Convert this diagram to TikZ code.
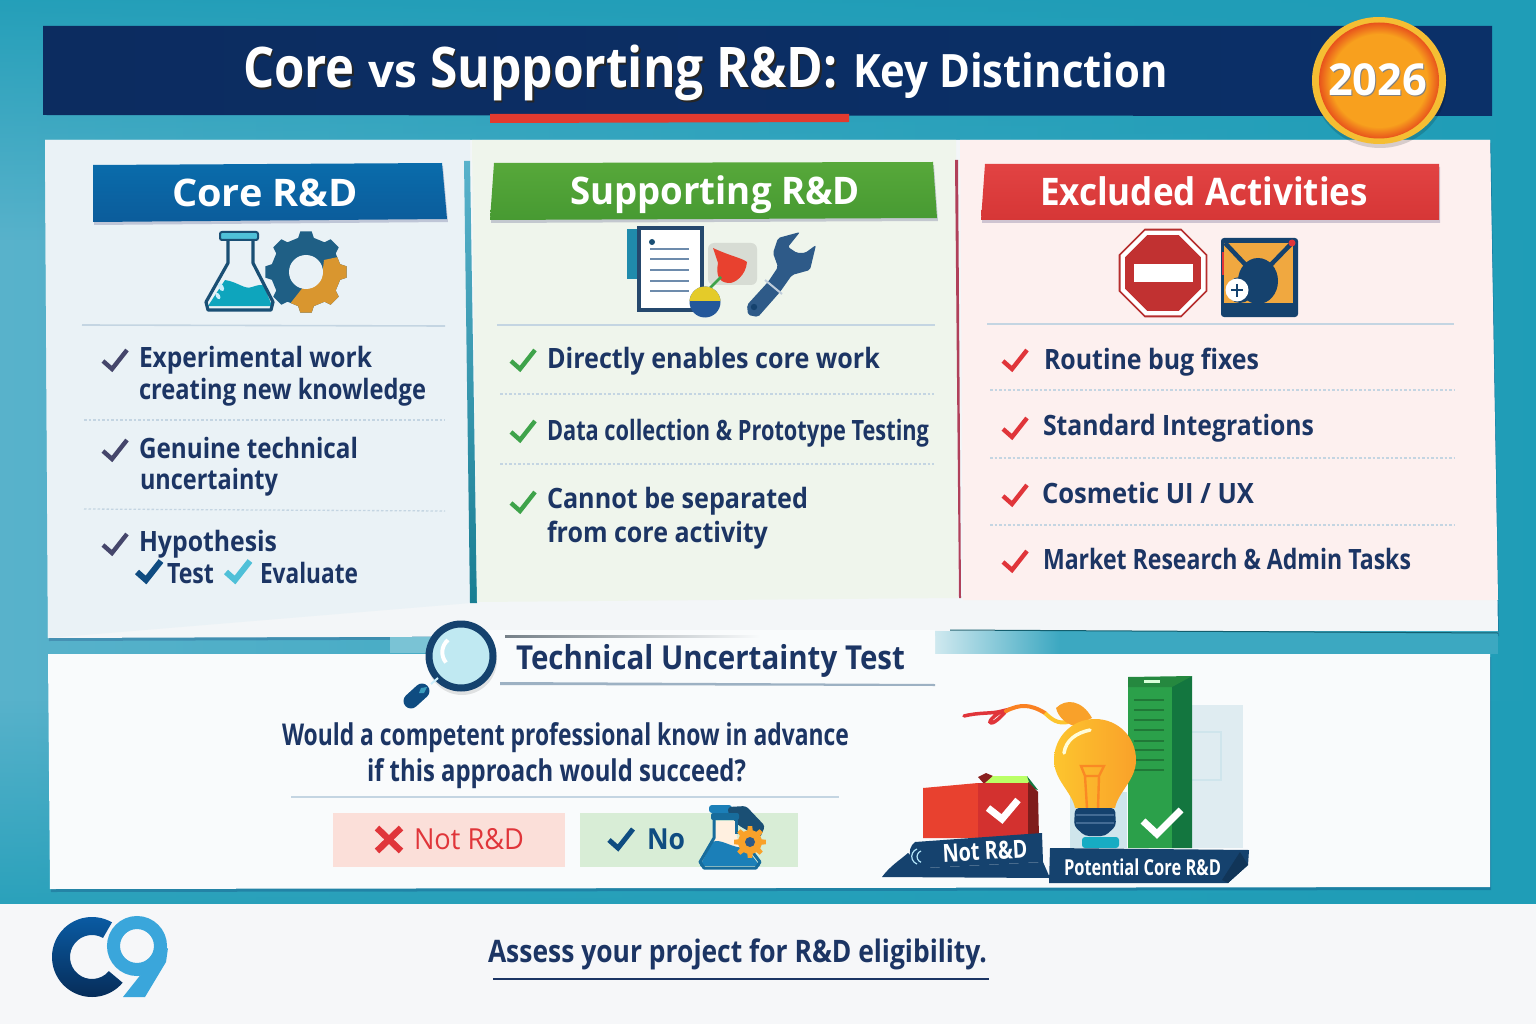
\documentclass[tikz,border=0pt]{standalone}
\usepackage{fontspec}
\usepackage{graphicx}
\usetikzlibrary{fadings,shadows,shadings}
\newfontfamily\fbaseb{Open Sans}
\newcommand{\fbold}{\fbaseb\bfseries}
\newcommand{\fsemi}{\fbaseb\bfseries}
\newcommand{\fmed}{\fbaseb}
\definecolor{navy}{HTML}{1C3564}
\definecolor{titlenavy}{HTML}{0C2C60}
\definecolor{titlenavyb}{HTML}{0B3068}
\definecolor{rule}{HTML}{C4D5E2}
\definecolor{iconnavy}{HTML}{1A4F74}
\definecolor{bgL}{HTML}{58B2CB}
\definecolor{bgR}{HTML}{1F9DB7}
\definecolor{wnavy}{HTML}{2E5A88}
\definecolor{bnavy}{HTML}{15426E}
\definecolor{chkgreen}{HTML}{3EA34A}
\definecolor{chkred}{HTML}{E0353A}
\definecolor{chkslate}{HTML}{45466B}
\definecolor{sheet}{HTML}{F3F6F8}
\definecolor{pleft}{HTML}{EAF2F6}
\definecolor{pmid}{HTML}{EFF5EC}
\definecolor{pright}{HTML}{FDF0EF}
\definecolor{low}{HTML}{F9FBFC}
\definecolor{foot}{HTML}{F6F7F9}
\definecolor{corea}{HTML}{0A6CAB}
\definecolor{coreb}{HTML}{0B5C9B}
\definecolor{supa}{HTML}{57A83A}
\definecolor{supb}{HTML}{479A32}
\definecolor{exca}{HTML}{E24343}
\definecolor{excb}{HTML}{D63636}
\definecolor{flaskliq}{HTML}{0EA5BD}
\definecolor{gearb}{HTML}{1F5F85}
\definecolor{gearo}{HTML}{D9962F}
\definecolor{boxo}{HTML}{F0A840}
\definecolor{towera}{HTML}{2BA04A}
\definecolor{towerb}{HTML}{13763F}
\definecolor{palea}{HTML}{DFECF1}
\definecolor{paleb}{HTML}{CFE5EC}
\definecolor{bulba}{HTML}{FDC52E}
\definecolor{bulbb}{HTML}{F9A12A}
\definecolor{boxr}{HTML}{E8412F}
\definecolor{boxs}{HTML}{D3312F}
\definecolor{logoa}{HTML}{0A5EA8}
\definecolor{logob}{HTML}{062A55}
\definecolor{logoc}{HTML}{3AA6DB}
\definecolor{underl}{HTML}{E23A2F}
\definecolor{ringy}{HTML}{F5BE33}
\definecolor{orin}{HTML}{F8A01E}
\definecolor{orout}{HTML}{E8521C}
\definecolor{btnr}{HTML}{FBDFD9}
\definecolor{btng}{HTML}{D8EDD6}
\definecolor{evalc}{HTML}{4FC0D8}
\definecolor{nocol}{HTML}{0F4C81}
\definecolor{redline}{HTML}{B0405A}
\definecolor{maglens}{HTML}{C0E9F2}
\definecolor{ballb}{HTML}{24589A}
\definecolor{fskblue}{HTML}{1B7FB8}
\tikzset{
  txt/.style={anchor=base west,inner sep=0pt,outer sep=0pt},
  sep/.style={draw=rule,line width=1.6pt},
  dsep/.style={draw=rule,line width=1.3pt,dash pattern=on 2.5pt off 2pt},
  chkline/.style={line width=4.4pt,line cap=butt,line join=miter},
  whitechk/.style={draw=white,line width=7pt,line join=miter},
  softshadow/.style={drop shadow={shadow xshift=1pt,shadow yshift=-3pt,opacity=.18,fill=black!70!blue}},
}
\newsavebox\tbox
\newcommand{\T}[9][]{\node[txt,text=#7,#1] (#2) at (#3,#4) {\sbox\tbox{#8\fontsize{#6}{#6}\selectfont #9}\pgfmathsetmacro\tf{#5/\the\wd\tbox}\scalebox{\tf}[1]{\usebox\tbox}};}
\newcommand{\Chk}[3]{\draw[chkline,#1] (#2-13,#3) -- (#2-4,#3+8) -- (#2+11,#3-11);}
\newcommand{\gearp}[3]{(-13:#2) \foreach \i in {1,...,#3} { -- ({(\i-1)*360/#3-13}:#2) -- ({(\i-1)*360/#3-8}:#1) -- ({(\i-1)*360/#3+8}:#1) -- ({(\i-1)*360/#3+13}:#2)} -- cycle}
\begin{document}
\begin{tikzpicture}[x=1pt,y=-1pt]
\useasboundingbox (0,0) rectangle (1536,1024);
% background
\shade[left color=bgL,right color=bgR] (0,0) rectangle (1536,905);
\fill[color=bgR,path fading=south,opacity=.9] (0,0) rectangle (1536,240);
\fill[color=bgR,path fading=north,opacity=.8] (0,700) rectangle (1536,905);
% footer
\fill[color=foot] (0,904) rectangle (1536,1024);
% title bar
\shade[left color=titlenavy,right color=titlenavyb] (43,26) -- (1492,26) -- (1492,116) -- (43,115) -- cycle;
\fill[color=underl] (490,114) -- (849,114) -- (849,122) -- (490,123) -- cycle;
% sheet
\fill[color=sheet,softshadow] (45,140) -- (1490,140) -- (1498,633) -- (48,638) -- cycle;
% panels
\fill[color=pleft] (45,140) -- (470,140) -- (471,603) -- (48,638) -- cycle;
\shade[top color=bgL,bottom color=bgR!80!black] (464,161) -- (470,161) -- (477,603) -- (470,603) -- cycle;
\fill[color=pmid] (472,140) -- (956,140) -- (958,598) -- (477,602) -- cycle;
\fill[color=redline] (955,160) -- (958,160) -- (961,598) -- (959,598) -- cycle;
\fill[color=pright] (960,140) -- (1490,140) -- (1498,600) -- (963,600) -- cycle;
% gap strip with the fading right side
\fill[color=bgL!50!bgR] (980,631) rectangle (1498,654);
\shade[left color=low,right color=bgL!50!bgR] (900,631) rectangle (1060,654);
\draw[color=bgR!60!black,line width=1pt] (950,630) -- (1498,633);
% lower panel
\fill[color=low,softshadow] (48,654) -- (1490,654) -- (1490,887) -- (50,889) -- cycle;
% section strip
\fill[color=bgL!60!bgR!70!white] (390,637) rectangle (470,653);
\fill[color=low] (470,630) rectangle (935,654);
\fill[color=low] (500,636) -- (935,636) -- (935,684) -- (500,682) -- cycle;
\shade[left color=rule!60!black,right color=low] (505,635.5) rectangle (760,637);
\fill[color=bnavy,opacity=.4] (500,682) -- (935,684) -- (935,686) -- (500,685) -- cycle;
% headers
\shade[top color=corea,bottom color=coreb,softshadow] (93,165) -- (442,163) -- (447,219) -- (93,222) -- cycle;
\T{coreh}{172}{207}{186}{38}{white}{\fbold}{Core R\&D}
\shade[top color=supa,bottom color=supb,softshadow] (494,163) -- (933,162) -- (937,218) -- (490,220) -- cycle;
\T{supph}{570}{205}{290}{38}{white}{\fbold}{Supporting R\&D}
\shade[top color=exca,bottom color=excb,softshadow] (985,164) -- (1439,164) -- (1439,220) -- (981,220) -- cycle;
\T{exclh}{1040}{206}{328}{38}{white}{\fbold}{Excluded Activities}
% title text
\T{t1s}{244.5}{90}{112}{56}{black!85}{\fbold}{Core}
\T{t3s}{431.5}{90}{408}{56}{black!85}{\fbold}{Supporting R\&D:}
\T{t1}{243}{88}{112}{56}{white}{\fbold}{Core}
\T{t2}{368}{88}{49}{46}{white}{\fsemi}{vs}
\T{t3}{430}{88}{408}{56}{white}{\fbold}{Supporting R\&D:}
\T{t4}{853}{88}{315}{46}{white}{\fsemi}{Key Distinction}
% badge
\fill[color=black,opacity=.15] (1380,84) ellipse (67 and 64);
\fill[color=ringy] (1379,80.5) ellipse (67 and 63.5);
\fill[color=orout] (1379,80.5) ellipse (60 and 58);
\fill[color=orin,path fading=circle with fuzzy edge 20 percent] (1379,80.5) ellipse (60 and 58);
\T{y26s}{1329}{97}{99}{44}{black!50}{\fbold}{2026}
\T{y26}{1328}{95.5}{99}{44}{white}{\fbold}{2026}
% separators
\draw[sep] (82,325) -- (445,326);
\draw[sep] (497,325) -- (935,325);
\draw[sep] (987,324) -- (1454,324);
\draw[dsep] (84,420) -- (445,420);
\draw[dsep] (84,509) -- (445,511);
\draw[dsep] (500,394) -- (934,394);
\draw[dsep] (500,464) -- (934,464);
\draw[dsep] (990,390) -- (1455,390);
\draw[dsep] (990,458) -- (1455,458);
\draw[dsep] (990,525) -- (1455,525);
% left text
\T{a1}{139}{367}{233}{28}{navy}{\fsemi}{Experimental work}
\T{a2}{139}{399}{287}{28}{navy}{\fsemi}{creating new knowledge}
\T{a3}{139}{458}{219}{28}{navy}{\fsemi}{Genuine technical}
\T{a4}{140}{489}{138}{28}{navy}{\fsemi}{uncertainty}
\T{a5}{139}{551}{138}{28}{navy}{\fsemi}{Hypothesis}
\T{a6}{167}{583}{47}{28}{navy}{\fsemi}{Test}
\T{a7}{260}{583}{98}{28}{navy}{\fsemi}{Evaluate}
\Chk{chkslate}{116}{361}
\Chk{chkslate}{116}{451}
\Chk{chkslate}{116}{545}
\Chk{nocol,line width=6pt}{150}{572}
\Chk{evalc,line width=6pt}{239}{572}
% middle text
\T{b1}{547}{368}{333}{28}{navy}{\fsemi}{Directly enables core work}
\T{b2}{547}{440}{382}{28}{navy}{\fsemi}{Data collection \& Prototype Testing}
\T{b3}{547}{508}{261}{28}{navy}{\fsemi}{Cannot be separated}
\T{b4}{547}{542}{221}{28}{navy}{\fsemi}{from core activity}
\Chk{chkgreen}{524}{361}
\Chk{chkgreen}{524}{432}
\Chk{chkgreen}{524}{503}
% right text
\T{c1}{1044}{369}{215}{28}{navy}{\fsemi}{Routine bug fixes}
\T{c2}{1043}{435}{271}{28}{navy}{\fsemi}{Standard Integrations}
\T{c3}{1042}{503}{212}{28}{navy}{\fsemi}{Cosmetic UI / UX}
\T{c4}{1043}{569}{368}{28}{navy}{\fsemi}{Market Research \& Admin Tasks}
\Chk{chkred}{1016}{361}
\Chk{chkred}{1016}{429}
\Chk{chkred}{1016}{496}
\Chk{chkred}{1016}{562}
% flask and gear
\begin{scope}[shift={(306,272)}]
  \fill[color=gearb] \gearp{41}{35}{8};
  \begin{scope}
    \clip (-24,42) -- (-2,14) -- (16,5) -- (18,-12) -- (46,-18) -- (46,46) -- cycle;
    \fill[color=gearo] \gearp{41}{35}{8};
  \end{scope}
  \fill[color=pleft] (0,0) circle (17);
\end{scope}
\fill[color=pleft] (228,240) -- (253,240) -- (253,263) -- (273,306) -- (206,306) -- (228,263) -- cycle;
\fill[color=flaskliq] (208,306) -- (225,280) .. controls (238,282) and (245,290) .. (252,287) .. controls (258,285) and (262,284) .. (264,286) -- (272,306) -- cycle;
\draw[color=iconnavy,line width=3.2pt,line join=round] (228,240) -- (228,263) -- (206,302) -- (208,310) -- (271,310) -- (273,302) -- (253,263) -- (253,240);
\fill[color=evalc,draw=iconnavy,line width=2pt,rounded corners=2pt] (220,232) rectangle (258,240);
\fill[color=white!80!cyan,rotate around={30:(221,287)}] (221,287) ellipse (2.5 and 4.5);
\fill[color=white!80!cyan,rotate around={30:(218,296)}] (218,296) ellipse (2 and 3.5);
% document, wrench
\fill[color=wnavy!70!cyan] (627,229) rectangle (640,279);
\fill[color=white,draw=wnavy!80!black,line width=4pt] (639,228) rectangle (702,310);
\fill[color=iconnavy] (652,242) circle (3);
\foreach \yy in {249,259,270,281,291} {\draw[color=wnavy!70!white,line width=2.6pt] (650,\yy) -- (689,\yy);}
\fill[color=pmid!90!black,rounded corners=6pt] (708,243) rectangle (757,285);
\fill[color=boxr] (713,248) .. controls (730,256) and (742,258) .. (747,262) .. controls (746,275) and (735,284) .. (728,283) .. controls (718,282) and (716,274) .. (718,263) -- cycle;
\draw[color=chkgreen,line width=2.6pt] (710,288) -- (721,277);
\fill[color=ballb] (705,302) circle (15.5);
\begin{scope}
  \clip (688,285) rectangle (722,300);
  \fill[color=bulba!90!green] (705,302) circle (15.5);
\end{scope}
\fill[color=wnavy,rounded corners=2pt] (800,232) -- (778,238) -- (773,253) -- (778,267) -- (768,282) -- (747,305) -- (748,315) -- (758,317) -- (780,292) -- (792,275) -- (810,270) -- (816,245) -- (805,253) -- (797,253) -- (788,247) -- cycle;
\fill[color=bnavy] (754,307) circle (3.2);
\draw[color=white!70!wnavy,line width=2pt] (765,280) -- (782,294);
% stop sign and box
\begin{scope}[shift={(1163,273)}]
  \fill[color=excb!85!black] (22.5:48) -- (67.5:48) -- (112.5:48) -- (157.5:48) -- (202.5:48) -- (247.5:48) -- (292.5:48) -- (337.5:48) -- cycle;
  \fill[color=white] (22.5:46) -- (67.5:46) -- (112.5:46) -- (157.5:46) -- (202.5:46) -- (247.5:46) -- (292.5:46) -- (337.5:46) -- cycle;
  \fill[color=excb!90!black] (22.5:41) -- (67.5:41) -- (112.5:41) -- (157.5:41) -- (202.5:41) -- (247.5:41) -- (292.5:41) -- (337.5:41) -- cycle;
  \fill[color=white] (-29,-9) rectangle (30,9);
\end{scope}
\fill[color=bnavy,rounded corners=3pt] (1221,238) rectangle (1298,317);
\fill[color=boxo] (1224,243) rectangle (1293,303);
\draw[color=bnavy,line width=4.5pt] (1225,243) -- (1258,278) -- (1292,243);
\fill[color=bnavy] (1258,281) ellipse (20 and 23);
\fill[color=bnavy] (1240,290) circle (13);
\fill[color=white] (1237,290) circle (11.5);
\draw[color=bnavy,line width=2.5pt] (1231,290) -- (1243,290) (1237,284) -- (1237,297);
\fill[color=chkred] (1292,243) circle (3.5);
\fill[color=chkred] (1222,252) rectangle (1224,275);
% magnifier
\fill[color=black,opacity=.1] (462,660) circle (35);
\fill[color=maglens,draw=bnavy,line width=7pt] (461,656) circle (32);
\draw[color=white,line width=4pt] (448,640) arc[start angle=-130,end angle=-220,radius=16];
\draw[color=white!80!cyan,line width=2pt] (438,678) -- (431,684);
\draw[color=nocol,line width=15pt,line cap=round] (411,701) -- (422,691);
\fill[color=evalc,opacity=.7] (421,688) -- (427,687) -- (424,693) -- (419,693) -- cycle;
% test section title and question
\T{tt}{516}{669}{389}{33}{navy}{\fbold}{Technical Uncertainty Test}
\T{q1}{282}{745}{567}{30}{navy}{\fsemi}{Would a competent professional know in advance}
\T{q2}{367}{781}{379}{30}{navy}{\fsemi}{if this approach would succeed?}
\draw[sep] (291,797) -- (839,797);
% buttons
\fill[color=btnr] (333,813) rectangle (565,867);
\draw[color=chkred,line width=6.5pt] (377,828) -- (401,851) (401,828) -- (377,851);
\T{nr}{414}{849}{110}{29}{chkred}{\fmed}{Not R\&D}
\fill[color=btng] (580,813) rectangle (798,867);
\Chk{nocol,line width=5pt}{622}{840}
\T{no}{647}{849}{38}{29}{nocol}{\fsemi}{No}
% small flask with gear
\fill[color=fskblue,rounded corners=3pt] (709,805) rectangle (732,813);
\fill[color=iconnavy,rounded corners=3pt] (728,807) -- (746,806) -- (765,826) -- (760,838) -- (738,825) -- (728,813) -- cycle;
\fill[color=white!88!orange] (716,821) -- (735,821) -- (737,838) -- (758,866) -- (702,866) -- (714,838) -- cycle;
\fill[color=fskblue] (712,842) .. controls (722,838) and (730,848) .. (746,848) -- (760,866) -- (700,866) -- cycle;
\draw[color=fskblue!85!black,line width=3pt,line join=round] (714,818) -- (714,838) -- (700,862) -- (704,868) -- (756,868) -- (760,862) -- (745,842);
\draw[color=fskblue!85!black,line width=3pt] (736,818) -- (736,834);
\fill[color=fskblue!85!black,rounded corners=2pt] (711,813) rectangle (739,820);
\begin{scope}[shift={(750,842)}]
  \fill[color=bulbb] \gearp{16}{12}{8};
  \fill[color=wnavy] (0,0) circle (5);
\end{scope}
% illustration at right
\fill[color=palea] (1192,705) rectangle (1243,848);
\draw[color=paleb,line width=1.4pt] (1191,732) rectangle (1221,780);
\fill[color=paleb] (1070,792) rectangle (1127,848);
\fill[color=towera] (1128,677) -- (1172,678) -- (1172,848) -- (1128,848) -- cycle;
\fill[color=towerb] (1172,683) -- (1192,676) -- (1192,848) -- (1172,848) -- cycle;
\fill[color=towera!85!black] (1128,677) -- (1192,676) -- (1172,687) -- (1128,687) -- cycle;
\foreach \yy in {700,710,720,730,741,750,760,770} {\draw[color=towera!75!black,line width=1.2pt] (1134,\yy) -- (1164,\yy);}
\fill[color=white!85!green] (1144,680) rectangle (1160,682.5);
\draw[whitechk] (1143,821) -- (1157,834) -- (1181,810);
\draw[color=chkred,line width=3.5pt,line cap=round] (964,716) .. controls (980,712) and (992,714) .. (1002,711) .. controls (1002,711) and (990,718) .. (990,722) .. controls (992,726) and (1002,716) .. (1006,711);
\draw[color=bulbb!80!red,line width=4pt,line cap=round] (1006,711) .. controls (1020,704) and (1030,704) .. (1045,713);
\draw[color=bulba,line width=4pt] (1045,713) .. controls (1052,720) and (1058,724) .. (1068,722);
\fill[color=bulbb] (1056,708) .. controls (1066,698) and (1082,700) .. (1092,718) -- (1075,726) .. controls (1065,724) and (1058,716) .. (1056,708) -- cycle;
\shade[left color=bulba,right color=bulbb] (1095,719) .. controls (1072,719) and (1054,737) .. (1054,760) .. controls (1054,780) and (1072,792) .. (1075,808) -- (1115,808) .. controls (1118,792) and (1136,780) .. (1136,760) .. controls (1136,737) and (1118,719) .. (1095,719) -- cycle;
\draw[color=white!85!yellow,line width=3.5pt,line cap=round] (1064,753) .. controls (1066,740) and (1076,733) .. (1090,730);
\draw[color=bulbb!85!red,line width=2.4pt] (1087,808) -- (1085,776) -- (1081,766) -- (1104,766) -- (1099,776) -- (1098,808) (1085,776) -- (1099,776);
\fill[color=wnavy!50!cyan,rounded corners=3pt] (1082,837) rectangle (1119,848);
\fill[color=bnavy,rounded corners=4pt] (1075,808) -- (1115,808) -- (1116,826) -- (1105,836) -- (1085,836) -- (1074,826) -- cycle;
\foreach \yy in {815,823} {\draw[color=wnavy!90!white,line width=1.2pt] (1076,\yy) -- (1114,\yy);}
% red box
\fill[color=boxs!65!black] (978,777) -- (986,773) -- (993,776) -- (985,785) -- cycle;
\fill[color=green!45!yellow!60!white] (985,783) -- (993,776) -- (1027,776) -- (1031,785) -- cycle;
\fill[color=towerb] (1027,776) -- (1038,790) -- (1031,788) -- cycle;
\fill[color=boxr] (923,788) -- (978,783) -- (978,838) -- (923,838) -- cycle;
\fill[color=boxs] (978,783) -- (1030,783) -- (1032,838) -- (978,838) -- cycle;
\fill[color=boxs!60!black] (1028,782) -- (1038,792) -- (1039,838) -- (1028,838) -- cycle;
\draw[whitechk] (988,808) -- (1002,819) -- (1018,800);
% banners
\fill[color=bnavy] (882,877) .. controls (890,866) and (900,860) .. (908,853) -- (925,868) -- (1043,862) -- (1050,878) -- cycle;
\fill[color=bnavy] (915,842) -- (1042,833) -- (1043,862) -- (925,868) .. controls (910,865) and (905,850) .. (915,842) -- cycle;
\draw[color=white!70!cyan,line width=1.2pt] (917,849) arc[start angle=-110,end angle=-250,radius=8];
\draw[color=white!70!cyan,line width=1.2pt] (921,851) arc[start angle=-110,end angle=-250,radius=6];
\T[rotate=3]{nb}{943}{862}{85}{25}{white}{\fsemi}{Not R\&D}
\fill[color=bnavy] (1050,848) -- (1249,850) -- (1248,865) -- (1228,883) -- (1049,883) -- cycle;
\fill[color=bnavy!80!black] (1228,883) -- (1248,865) -- (1240,852) -- (1222,880) -- cycle;
\T{pb}{1064}{875}{157}{22}{white}{\fsemi}{Potential Core R\&D}
% footer logo and call to action
\shade[top color=logoa,bottom color=logob] (92,957) ++(-60:40) arc[start angle=-60,end angle=-320,radius=40] -- ++(-320+180:18) arc[start angle=-320,end angle=-60,radius=22] -- cycle;
\fill[color=logoc] (168,948) -- (166,962) -- (145,997) -- (123,997) -- (146,968) -- cycle;
\draw[color=logoc,line width=13pt] (137,946) circle (23.5);
\T{cta}{488}{962}{499}{31}{navy}{\fsemi}{Assess your project for R\&D eligibility.}
\draw[color=navy,line width=2.6pt] (493,979) -- (989,979);
\end{tikzpicture}
\end{document}
